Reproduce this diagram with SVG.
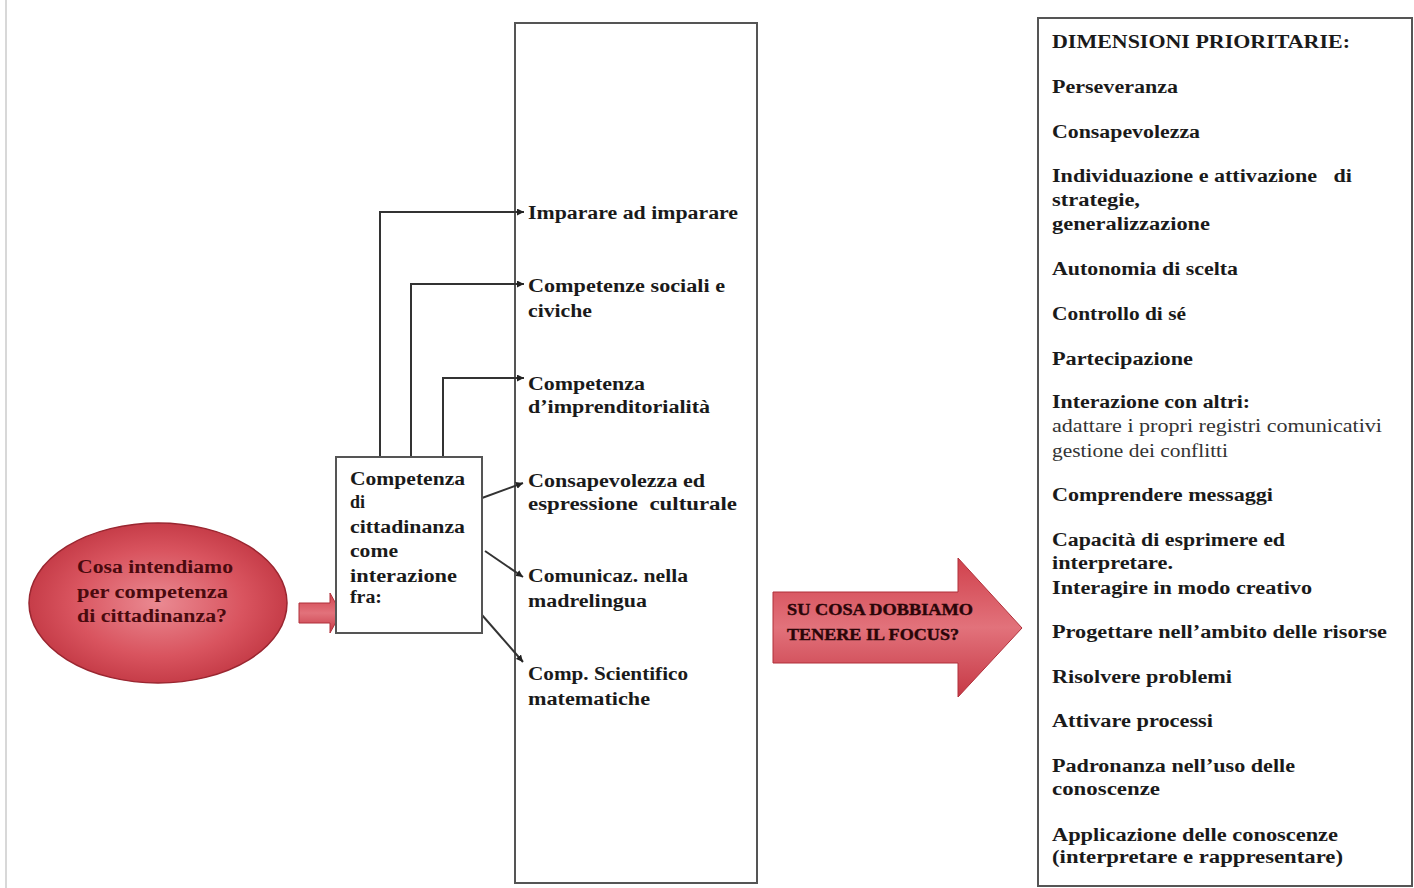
<svg xmlns="http://www.w3.org/2000/svg" width="1414" height="888" viewBox="0 0 1414 888">
<defs>
<style>
.box{fill:#fff;stroke:#555;stroke-width:2}
.t{font-family:"Liberation Serif","Times New Roman",serif;font-weight:bold;font-size:18px;fill:#1a1a1a}
.n{font-family:"Liberation Serif","Times New Roman",serif;font-weight:normal;font-size:18px;fill:#333}
.r{font-family:"Liberation Serif","Times New Roman",serif;font-weight:bold;font-size:17px;fill:#4a0a0e}
.c{fill:none;stroke:#333;stroke-width:2}
</style>
<radialGradient id="eg" cx="0.5" cy="0.5" r="0.6">
<stop offset="0" stop-color="#ea8a92"/>
<stop offset="0.55" stop-color="#d9545f"/>
<stop offset="1" stop-color="#bb2f3b"/>
</radialGradient>
<linearGradient id="ag" x1="0" y1="0" x2="0" y2="1">
<stop offset="0" stop-color="#d0414c"/>
<stop offset="0.5" stop-color="#e2727b"/>
<stop offset="1" stop-color="#c63845"/>
</linearGradient>
<marker id="ah" viewBox="0 0 10 10" refX="10" refY="5" markerWidth="7" markerHeight="7" markerUnits="userSpaceOnUse" orient="auto">
<path d="M0,0 L10,5 L0,10 z" fill="#222"/>
</marker>
</defs>
<rect width="1414" height="888" fill="#fff"/>
<line x1="6" y1="0" x2="6" y2="888" stroke="#d8d8d8" stroke-width="2"/>

<g id="question">
<ellipse cx="158" cy="603" rx="129" ry="80" fill="url(#eg)" stroke="#9a2630" stroke-width="1.5"/>
<text class="r" x="77" y="573" textLength="156" lengthAdjust="spacingAndGlyphs" style="font-size:18px">Cosa intendiamo</text>
<text class="r" x="77" y="598" textLength="151" lengthAdjust="spacingAndGlyphs" style="font-size:18px">per competenza</text>
<text class="r" x="77" y="622" textLength="150" lengthAdjust="spacingAndGlyphs" style="font-size:18px">di cittadinanza?</text>
</g>

<g id="small-arrow">
<path d="M299,603 L330,603 L330,593 L341,613 L330,633 L330,623 L299,623 z" fill="url(#ag)" stroke="#b0303a" stroke-width="1"/>
</g>

<g id="outcomes-box">
<rect class="box" x="515" y="23" width="242" height="860"/>
<text class="t" x="528" y="219" textLength="210" lengthAdjust="spacingAndGlyphs">Imparare ad imparare</text>
<text class="t" x="528" y="292" textLength="197" lengthAdjust="spacingAndGlyphs">Competenze sociali e</text>
<text class="t" x="528" y="317" textLength="64" lengthAdjust="spacingAndGlyphs">civiche</text>
<text class="t" x="528" y="390" textLength="117" lengthAdjust="spacingAndGlyphs">Competenza</text>
<text class="t" x="528" y="413" textLength="182" lengthAdjust="spacingAndGlyphs">d’imprenditorialità</text>
<text class="t" x="528" y="487" textLength="177" lengthAdjust="spacingAndGlyphs">Consapevolezza ed</text>
<text class="t" x="528" y="510" textLength="209" lengthAdjust="spacingAndGlyphs" xml:space="preserve">espressione  culturale</text>
<text class="t" x="528" y="582" textLength="160" lengthAdjust="spacingAndGlyphs">Comunicaz. nella</text>
<text class="t" x="528" y="607" textLength="119" lengthAdjust="spacingAndGlyphs">madrelingua</text>
<text class="t" x="528" y="680" textLength="160" lengthAdjust="spacingAndGlyphs">Comp. Scientifico</text>
<text class="t" x="528" y="705" textLength="122" lengthAdjust="spacingAndGlyphs">matematiche</text>
</g>

<g id="connectors">
<polyline class="c" points="380,457 380,212 524,212" marker-end="url(#ah)"/>
<polyline class="c" points="411,457 411,284 524,284" marker-end="url(#ah)"/>
<polyline class="c" points="443,457 443,378 524,378" marker-end="url(#ah)"/>
<line class="c" x1="482" y1="498" x2="523" y2="483" marker-end="url(#ah)"/>
<line class="c" x1="485" y1="551" x2="523" y2="577" marker-end="url(#ah)"/>
<line class="c" x1="482" y1="615" x2="523" y2="662" marker-end="url(#ah)"/>
</g>

<g id="citizenship-box">
<rect class="box" x="336" y="457" width="146" height="176"/>
<text class="t" x="350" y="485" textLength="115" lengthAdjust="spacingAndGlyphs">Competenza</text>
<text class="t" x="350" y="508">di</text>
<text class="t" x="350" y="533" textLength="115" lengthAdjust="spacingAndGlyphs">cittadinanza</text>
<text class="t" x="350" y="557" textLength="48" lengthAdjust="spacingAndGlyphs">come</text>
<text class="t" x="350" y="582" textLength="107" lengthAdjust="spacingAndGlyphs">interazione</text>
<text class="t" x="350" y="603" textLength="32" lengthAdjust="spacingAndGlyphs">fra:</text>
</g>

<g id="focus-arrow">
<path d="M773,592 L958,592 L958,558 L1022,628 L958,697 L958,663 L773,663 z" fill="url(#ag)" stroke="#b0303a" stroke-width="1"/>
<text class="r" x="787" y="615" textLength="186" lengthAdjust="spacingAndGlyphs" style="fill:#2a0508;stroke:#2a0508;stroke-width:0.4">SU COSA DOBBIAMO</text>
<text class="r" x="787" y="640" textLength="172" lengthAdjust="spacingAndGlyphs" style="fill:#2a0508;stroke:#2a0508;stroke-width:0.4">TENERE IL FOCUS?</text>
</g>

<g id="dimensions-box">
<rect class="box" x="1038" y="18" width="374" height="868"/>
<text class="t" x="1052" y="48" textLength="298" lengthAdjust="spacingAndGlyphs" style="font-size:19px">DIMENSIONI PRIORITARIE:</text>
<text class="t" x="1052" y="93" textLength="126" lengthAdjust="spacingAndGlyphs">Perseveranza</text>
<text class="t" x="1052" y="138" textLength="148" lengthAdjust="spacingAndGlyphs">Consapevolezza</text>
<text class="t" x="1052" y="182" textLength="300" lengthAdjust="spacingAndGlyphs" xml:space="preserve">Individuazione e attivazione   di</text>
<text class="t" x="1052" y="206" textLength="88" lengthAdjust="spacingAndGlyphs">strategie,</text>
<text class="t" x="1052" y="230" textLength="158" lengthAdjust="spacingAndGlyphs">generalizzazione</text>
<text class="t" x="1052" y="275" textLength="186" lengthAdjust="spacingAndGlyphs">Autonomia di scelta</text>
<text class="t" x="1052" y="320" textLength="134" lengthAdjust="spacingAndGlyphs">Controllo di sé</text>
<text class="t" x="1052" y="365" textLength="141" lengthAdjust="spacingAndGlyphs">Partecipazione</text>
<text class="t" x="1052" y="408" textLength="198" lengthAdjust="spacingAndGlyphs">Interazione con altri:</text>
<text class="n" x="1052" y="432" textLength="330" lengthAdjust="spacingAndGlyphs">adattare i propri registri comunicativi</text>
<text class="n" x="1052" y="457" textLength="176" lengthAdjust="spacingAndGlyphs">gestione dei conflitti</text>
<text class="t" x="1052" y="501" textLength="221" lengthAdjust="spacingAndGlyphs">Comprendere messaggi</text>
<text class="t" x="1052" y="546" textLength="233" lengthAdjust="spacingAndGlyphs">Capacità di esprimere ed</text>
<text class="t" x="1052" y="569" textLength="121" lengthAdjust="spacingAndGlyphs">interpretare.</text>
<text class="t" x="1052" y="594" textLength="260" lengthAdjust="spacingAndGlyphs">Interagire in modo creativo</text>
<text class="t" x="1052" y="638" textLength="335" lengthAdjust="spacingAndGlyphs">Progettare nell’ambito delle risorse</text>
<text class="t" x="1052" y="683" textLength="180" lengthAdjust="spacingAndGlyphs">Risolvere problemi</text>
<text class="t" x="1052" y="727" textLength="161" lengthAdjust="spacingAndGlyphs">Attivare processi</text>
<text class="t" x="1052" y="772" textLength="243" lengthAdjust="spacingAndGlyphs">Padronanza nell’uso delle</text>
<text class="t" x="1052" y="795" textLength="108" lengthAdjust="spacingAndGlyphs">conoscenze</text>
<text class="t" x="1052" y="841" textLength="286" lengthAdjust="spacingAndGlyphs">Applicazione delle conoscenze</text>
<text class="t" x="1052" y="863" textLength="291" lengthAdjust="spacingAndGlyphs">(interpretare e rappresentare)</text>
</g>
</svg>
